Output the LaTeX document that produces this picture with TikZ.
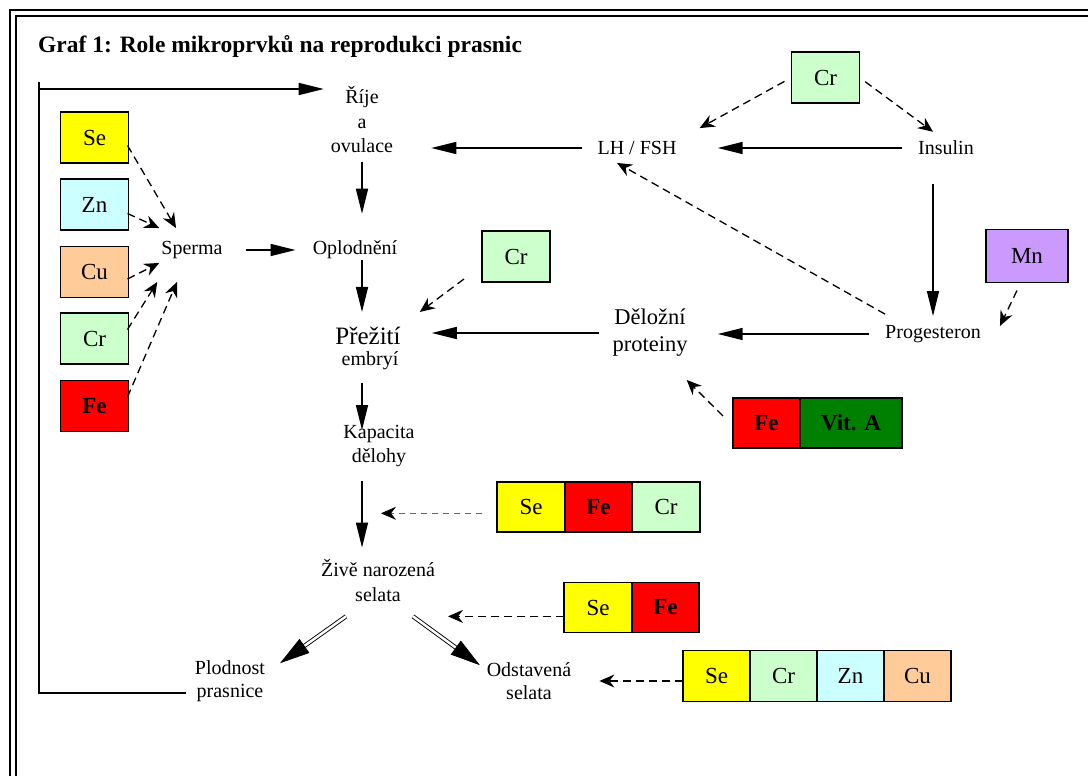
\documentclass[tikz,border=0pt]{standalone}
\usepackage{fontspec}
\setmainfont{Liberation Serif}
\usetikzlibrary{positioning,arrows.meta,calc}

\definecolor{seYel}{HTML}{FFFF00}
\definecolor{znCyan}{HTML}{CCFFFF}
\definecolor{cuPeach}{HTML}{FFCC99}
\definecolor{crGreen}{HTML}{CCFFCC}
\definecolor{feRed}{HTML}{FF0000}
\definecolor{vitGreen}{HTML}{008000}
\definecolor{mnViolet}{HTML}{CC99FF}

\tikzset{
  txt/.style={align=center, inner sep=0pt, font=\fontsize{20}{24}\selectfont},
  elbox/.style={draw, line width=1.6pt, inner sep=0pt, outer sep=0pt, minimum width=68pt, minimum height=51pt, font=\fontsize{23}{23}\selectfont},
  rowbox/.style={elbox, minimum width=67.5pt, minimum height=50pt},
  boldel/.style={font=\fontsize{23}{23}\selectfont\bfseries},
  arr/.style={line width=1.5pt, -{Triangle[length=25pt,width=12pt]}},
  darr/.style={line width=1.3pt, dash pattern=on 8pt off 5pt, -{Stealth[length=15pt,width=13pt,inset=5pt]}},
  dbl/.style={double, double distance=2.5pt, line width=0.9pt, -{Triangle[length=30pt,width=17pt]}}
}

\begin{document}
\begin{tikzpicture}[x=1pt, y=-1pt]
            \useasboundingbox (0,0) rectangle (1088,776);

            % Frame
            \draw[line width=2pt] (10,776) -- (10,10) -- (1088,10);
            \draw[line width=1.2pt] (16,776) -- (16,16) -- (1088,16);

            % Title
            \node[anchor=base west, inner sep=0pt, font=\fontsize{23.5}{28}\selectfont\bfseries] (title) at (38,53) {Graf 1: Role mikroprvků na reprodukci prasnic};

            % Stages
            \node[txt, font=\fontsize{20}{24.5}\selectfont] (rije) at (362,120) {Říje\\a\\ovulace};
            \node[txt] (lh) at (637,148) {LH / FSH};
            \node[txt] (ins) at (946,148) {Insulin};
            \node[txt] (sperma) at (192,250) {Sperma};
            \node[txt] (opl) at (355,250) {Oplodnění};
            \node[txt, font=\fontsize{25}{25}\selectfont] (prez) at (368,336) {Přežití};
            \node[txt] (emb) at (370,361) {embryí};
            \node[txt, font=\fontsize{22.5}{27}\selectfont] (del) at (650,333) {Děložní\\proteiny};
            \node[txt] (prog) at (933,334) {Progesteron};
            \node[txt] (kap) at (379,446) {Kapacita\\dělohy};
            \node[txt, font=\fontsize{20}{25}\selectfont] (zive) at (378,581) {Živě narozená\\selata};
            \node[txt, font=\fontsize{20}{23}\selectfont] (plod) at (230,681) {Plodnost\\prasnice};
            \node[txt, font=\fontsize{20}{23}\selectfont] (odst) at (529,681) {Odstavená\\selata};

            % Elements
            \node[elbox, fill=seYel] (seL) at (94.5,137.5) {Se};
            \node[elbox, fill=znCyan] (znL) at (94.5,204.5) {Zn};
            \node[elbox, fill=cuPeach] (cuL) at (94.5,272) {Cu};
            \node[elbox, fill=crGreen] (crL) at (94.5,338.5) {Cr};
            \node[elbox, boldel, fill=feRed] (feL) at (94.5,406) {Fe};

            \node[elbox, fill=crGreen] (crT) at (825.5,77.5) {Cr};
            \node[elbox, fill=crGreen] (crM) at (516,256.5) {Cr};
            \node[elbox, fill=mnViolet, minimum width=82pt, minimum height=53pt] (mn) at (1027,256) {Mn};
            \node[elbox, boldel, fill=feRed, minimum width=67pt, minimum height=50pt] (feV) at (766.5,423) {Fe};
            \node[elbox, boldel, fill=vitGreen, minimum width=102pt, minimum height=50pt, right=0pt of feV] (vitA) {Vit. A};

            \node[rowbox, fill=seYel] (se1) at (531,507) {Se};
            \node[rowbox, boldel, fill=feRed, right=0pt of se1] (fe1) {Fe};
            \node[rowbox, fill=crGreen, right=0pt of fe1] (cr1) {Cr};

            \node[rowbox, fill=seYel] (se2) at (598,607.5) {Se};
            \node[rowbox, boldel, fill=feRed, right=0pt of se2] (fe2) {Fe};

            \node[rowbox, fill=seYel, minimum width=67pt, minimum height=51pt] (se3) at (716.5,676) {Se};
            \node[rowbox, fill=crGreen, minimum width=67pt, minimum height=51pt, right=0pt of se3] (cr3) {Cr};
            \node[rowbox, fill=znCyan, minimum width=67pt, minimum height=51pt, right=0pt of cr3] (zn3) {Zn};
            \node[rowbox, fill=cuPeach, minimum width=67pt, minimum height=51pt, right=0pt of zn3] (cu3) {Cu};

            % Loop back to oestrus
            \coordinate (lpT) at (39,82);
            \coordinate (lpA) at (39,89);
            \coordinate (lpB) at (39,693);
            \draw[line width=1.5pt, shorten <=9pt] (plod.west |- lpB) -- (lpB) -- (lpT);
            \draw[arr, shorten >=7pt] (lpA) -- (lpA -| rije.west);

            % Hormones
            \draw[arr, shorten <=15pt, shorten >=38pt] (lh.west) -- (lh.west -| rije.east);
            \draw[arr, shorten <=16pt, shorten >=41pt] (ins.west) -- (lh.east);
            \draw[arr, shorten <=29pt, shorten >=9pt] (ins.south -| prog.north) -- (prog.north);
            \draw[arr, shorten <=16pt, shorten >=30pt] (prog.west) -- (prog.west -| del.east);
            \draw[arr, shorten <=13pt, shorten >=31pt] (del.west) -- (del.west -| prez.east);

            % Main chain
            \draw[arr, shorten <=23pt, shorten >=17pt] (sperma.east) -- (sperma.east -| opl.west);
            \draw[arr, shorten <=9pt, shorten >=27pt] (rije.south) -- (rije.south |- opl.north);
            \draw[arr, shorten <=1pt, shorten >=15pt] (opl.south -| rije.south) -- (prez.north -| rije.south);
            \draw[arr, shorten <=13pt, shorten >=-5pt] (emb.south -| rije.south) -- (kap.north -| rije.south);
            \draw[arr, shorten <=14pt, shorten >=12pt] (kap.south -| rije.south) -- coordinate[pos=0.5] (kzMid) (zive.north -| rije.south);
            \draw[dbl] ($(zive.south)+(-32,14)$) -- ($(plod.north)+(50,3)$);
            \draw[dbl] ($(zive.south)+(35,14)$) coordinate (odA) -- ($(odst.north)+(-49,3)$);

            % Dashed effects
            \draw[darr] ($(seL.east)+(-1,8)$) -- ($(sperma.north)+(-16,-13)$);
            \draw[darr] ($(znL.east)+(-1,9)$) -- ($(sperma.north west)+(-2,-13)$);
            \draw[darr] ($(cuL.east)+(-1,7)$) -- ($(sperma.south west)+(-2,4)$);
            \draw[darr] ($(crL.east)+(-1,-9)$) -- ($(sperma.south west)+(-4,23)$);
            \draw[darr] ($(feL.east)+(-1,-9)$) -- ($(sperma.south)+(-15,23)$);

            \draw[darr, shorten <=8pt] (crT.west) -- ($(lh.north east)+(23,-13)$);
            \draw[darr, shorten <=7pt] (crT.east) -- ($(ins.north)+(-13,-9)$);
            \draw[darr] ($(prog.north west)+(0,-11)$) -- ($(lh.south)+(-20,8)$);
            \draw[darr] ($(mn.south)+(-10,8)$) -- ($(prog.east)+(19,-8)$);
            \draw[darr] ($(feV.west)+(-10,-7)$) -- ($(del.south east)+(-1,23)$);
            \draw[darr] ($(crM.south west)+(-18,-3)$) -- ($(prez.north east)+(19,-15)$);

            \draw[darr, line width=0.8pt, draw=black!60, dash pattern=on 6pt off 5pt, -{Stealth[length=15pt,width=13pt,inset=5pt,black]}, shorten <=15pt, shorten >=19pt] (se1.west |- kzMid) -- (kzMid);
            \draw[darr, shorten >=35pt] (se2.west |- odA) -- (odA);
            \draw[darr, shorten >=28pt] (se3.west |- odst.east) -- (odst.east);

        \end{tikzpicture}
\end{document}
